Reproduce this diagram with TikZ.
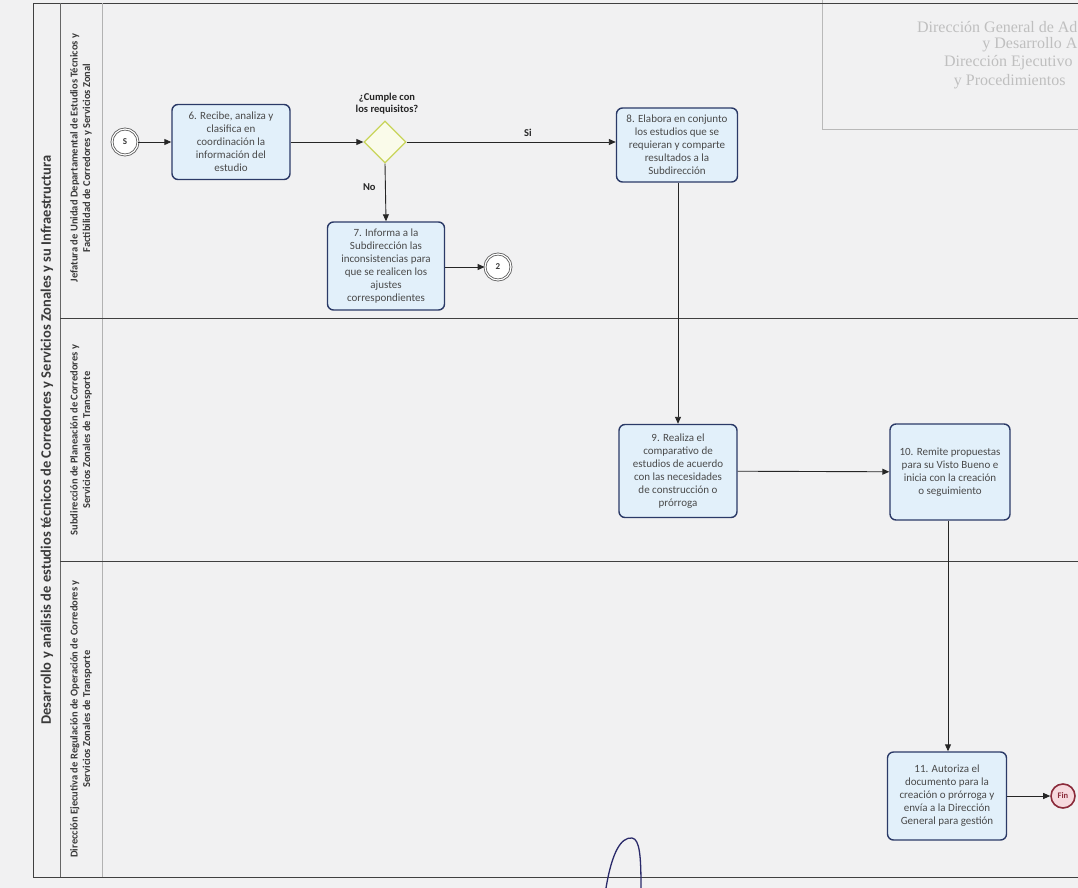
\documentclass[tikz,border=0pt]{standalone}
\usepackage{fontspec}
\setmainfont{Carlito}
\newfontfamily\stampfont{Liberation Serif}
\usetikzlibrary{shapes.geometric,arrows.meta}
\definecolor{bgc}{HTML}{F1F1F2}
\definecolor{taskline}{HTML}{2B3A67}
\definecolor{taskfill}{HTML}{E2F0FA}
\definecolor{gwline}{HTML}{C8D45A}
\definecolor{gwfill}{HTML}{FAFBEA}
\definecolor{finline}{HTML}{8A2A3A}
\definecolor{finfill}{HTML}{F6D9DE}
\definecolor{txt}{HTML}{3A3A3A}
\definecolor{tasktxt}{HTML}{4A4A4A}
\definecolor{sig}{HTML}{2A2A6A}
\tikzset{
  taskbox/.style={draw=taskline, line width=1.4pt, fill=taskfill, rounded corners=6pt,
    minimum width=118pt, align=center, inner sep=2pt,
    font=\fontsize{11}{13}\selectfont, text=tasktxt},
  gateway/.style={diamond, draw=gwline, line width=1.3pt, fill=gwfill, minimum width=42pt, minimum height=42pt, inner sep=0pt},
  evt/.style={circle, draw=gray!70!black, double=white, double distance=1.2pt, line width=0.8pt, fill=white,
    minimum size=26pt, inner sep=0pt, font=\fontsize{9}{10}\selectfont\bfseries, text=txt},
  endevt/.style={circle, draw=finline, line width=1.6pt, fill=finfill, minimum size=24pt, inner sep=0pt,
    font=\fontsize{8.5}{9}\selectfont\bfseries, text=finline},
  flow/.style={-{Triangle[length=7pt,width=6pt]}, line width=0.9pt, draw=black!85},
  lbl/.style={font=\fontsize{10.5}{12}\selectfont\bfseries, text=black!85, align=center},
  lanelbl/.style={rotate=90, font=\fontsize{10.5}{12.5}\selectfont\bfseries, align=center, text=txt},
  pooltitle/.style={rotate=90, font=\fontsize{14.5}{16}\selectfont\bfseries, text=txt},
  stamptxt/.style={font=\stampfont\fontsize{16}{18}\selectfont, text=gray!50}
}
\begin{document}
\begin{tikzpicture}[x=1pt,y=-1pt]
\useasboundingbox (0,0) rectangle (1078,888);
\fill[bgc] (0,0) rectangle (1078,888);
% stamp (top right)
\draw[gray!55, line width=1pt] (822,0) -- (822,130) -- (1080,130);
\node[stamptxt, anchor=east] (st1) at (1081,27) {Dirección General de Ad};
\node[stamptxt, anchor=east] (st2) at (1081,45) {y Desarrollo A};
\node[stamptxt, anchor=east] (st3) at (1076,63) {Dirección Ejecutivo};
\node[stamptxt, anchor=east] (st4) at (1069,82) {y Procedimientos};
% pool and lanes
\draw[black!75, line width=0.8pt] (1090,3) -- (33,3) -- (33,877) -- (1090,877);
\draw[black!60, line width=0.6pt] (60,3) -- (60,877);
\draw[black!30, line width=0.6pt] (102,3) -- (102,877);
\draw[black!75, line width=0.9pt] (60,318) -- (1090,318);
\draw[black!75, line width=0.9pt] (60,561) -- (1090,561);
\node[pooltitle] (pool) at (47,440) {Desarrollo y análisis de estudios técnicos de Corredores y Servicios Zonales y su Infraestructura};
\node[lanelbl] (l1) at (81,158) {Jefatura de Unidad Departamental de Estudios Técnicos y\\Factibilidad de Corredores y Servicios Zonal};
\node[lanelbl] (l2) at (81,440) {Subdirección de Planeación de Corredores y\\Servicios Zonales de Transporte};
\node[lanelbl] (l3) at (81,719) {Dirección Ejecutiva de Regulación de Operación de Corredores y\\Servicios Zonales de Transporte};
% nodes
\node[evt] (s) at (125,142) {S};
\node[taskbox, minimum height=75pt] (t6) at (231,142) {6. Recibe, analiza y\\clasifica en\\coordinación la\\información del\\estudio};
\node[gateway] (g) at (385,142) {};
\node[lbl] (gq) at (387,104) {¿Cumple con\\los requisitos?};
\node[taskbox, minimum height=74pt, minimum width=121pt] (t8) at (677,145) {8. Elabora en conjunto\\los estudios que se\\requieran y comparte\\resultados a la\\Subdirección};
\node[taskbox, minimum height=88pt, minimum width=117pt] (t7) at (386,266) {7. Informa a la\\Subdirección las\\inconsistencias para\\que se realicen los\\ajustes\\correspondientes};
\node[evt] (e2) at (498,267) {2};
\node[taskbox, minimum height=93pt] (t9) at (678,471) {9. Realiza el\\comparativo de\\estudios de acuerdo\\con las necesidades\\de construcción o\\prórroga};
\node[taskbox, minimum height=96pt, minimum width=120pt] (t10) at (950,472) {10. Remite propuestas\\para su Visto Bueno e\\inicia con la creación\\o seguimiento};
\node[taskbox, minimum height=88pt, minimum width=119pt] (t11) at (947,796) {11. Autoriza el\\documento para la\\creación o prórroga y\\envía a la Dirección\\General para gestión};
\node[endevt] (fin) at (1063,796) {Fin};
% flows
\draw[flow] (s) -- (t6);
\draw[flow] (t6) -- (g);
\draw[flow] (g.east) -- node[lbl, above=2pt, pos=0.58] (si) {Si} (t8.west |- g.east);
\draw[flow] (g.south) -- node[lbl, left=6pt, pos=0.4] (no) {No} (t7.north);
\draw[flow] (t7.east |- e2) -- (e2);
\draw[flow] (t8.south -| 678,0) -- (t9.north);
\draw[flow] (t9) -- (t10);
\draw[flow] (t10.south -| 948,0) -- (t11.north -| 948,0);
\draw[flow] (t11) -- (fin);
% handwritten stroke at bottom
\draw[sig, line width=1.3pt] (606,888) .. controls (612,852) and (621,837) .. (632,838) .. controls (640,839) and (641,858) .. (641,888);
\end{tikzpicture}
\end{document}
